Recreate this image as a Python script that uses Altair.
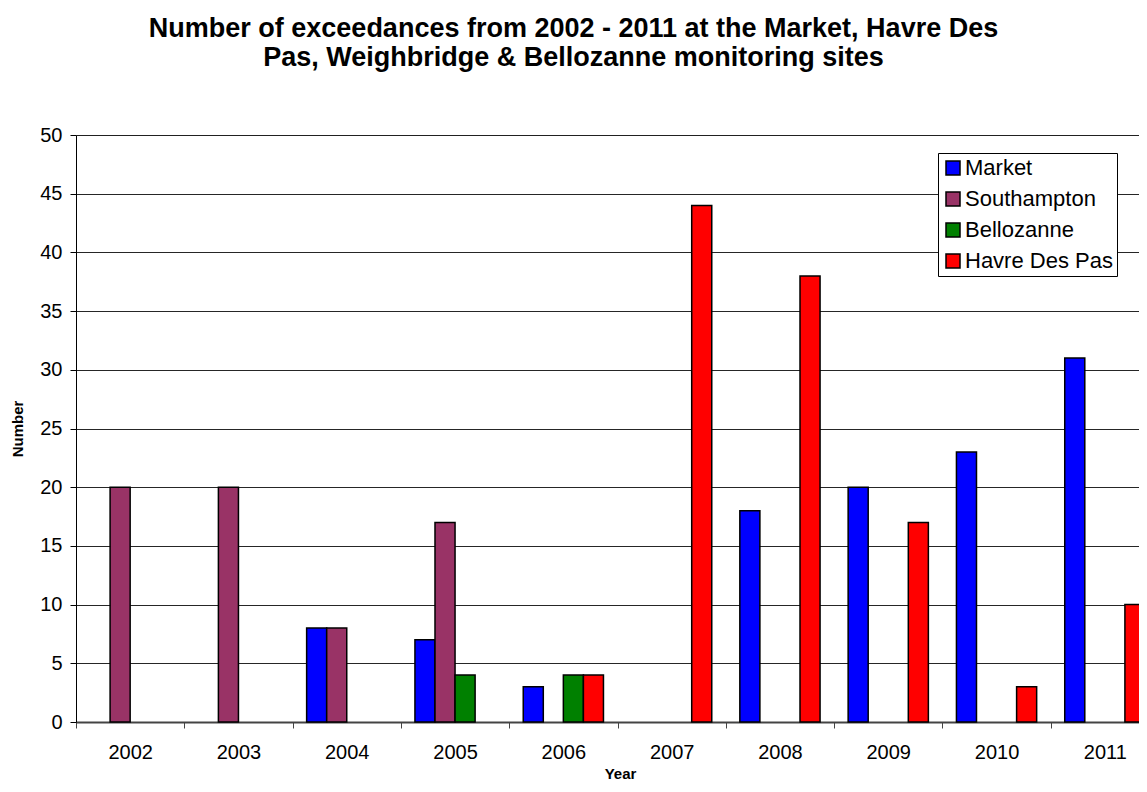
import altair as alt
import pandas as pd

years = [str(y) for y in range(2002, 2012)]
series = ["Market", "Southampton", "Bellozanne", "Havre Des Pas"]
colors = ["#0000FF", "#993366", "#008000", "#FF0000"]

market = [None, None, 8, 7, 3, None, 18, 20, 23, 31]
southampton = [20, 20, 8, 17, None, None, None, None, None, None]
bellozanne = [None, None, None, 4, 4, None, None, None, None, None]
havre = [None, None, None, None, 4, 44, 38, 17, 3, 10]

rows = []
for name, vals in zip(series, [market, southampton, bellozanne, havre]):
    for yr, v in zip(years, vals):
        if v is not None:
            rows.append({"Year": yr, "Series": name, "Value": v})
df = pd.DataFrame(rows)

FONT = "Liberation Sans"

chart = alt.Chart(df).mark_bar(stroke="black", strokeWidth=1.5).encode(
    x=alt.X(
        "Year:N",
        sort=years,
        scale=alt.Scale(domain=years, paddingInner=0, paddingOuter=0, range=[0, 1083]),
        axis=alt.Axis(
            title="Year", labelAngle=0, tickBand="extent", tickSize=6,
            tickColor="#444444", domainColor="#444444", domainWidth=2,
            labelFontSize=20, labelFont=FONT, labelColor="black", labelPadding=14,
            titleFont=FONT, titleFontSize=15, titleFontWeight="bold", titleColor="black",
            titlePadding=4, titleX=544, grid=False,
        ),
    ),
    xOffset=alt.XOffset("Series:N", sort=series,
                        scale=alt.Scale(domain=series, paddingInner=0, paddingOuter=0.7)),
    y=alt.Y(
        "Value:Q",
        scale=alt.Scale(domain=[0, 50], nice=False),
        axis=alt.Axis(
            title="Number", values=list(range(0, 51, 5)), tickSize=6,
            tickColor="black", domainColor="black", domainWidth=1,
            gridColor="black", gridWidth=1, gridOpacity=0.85,
            labelFontSize=20, labelFont=FONT, labelColor="black", labelPadding=8,
            titleFont=FONT, titleFontSize=15, titleFontWeight="bold", titleColor="black",
            titlePadding=14,
        ),
    ),
    color=alt.Color(
        "Series:N",
        sort=series,
        scale=alt.Scale(domain=series, range=colors),
        legend=alt.Legend(
            title=None, orient="none", legendX=862, legendY=18,
            strokeColor="black", fillColor="white", padding=4,
            symbolType="square", symbolSize=196, symbolStrokeColor="black",
            symbolStrokeWidth=1.5, symbolOpacity=1,
            labelFontSize=22, labelFont=FONT, labelColor="black",
            labelOffset=1, rowPadding=9,
        ),
    ),
).properties(
    width=1063,
    height=587,
    autosize=alt.AutoSizeParams(type="none"),
    padding={"left": 68, "top": 127, "right": 0, "bottom": 62},
    title=alt.Title(
        ["Number of exceedances from 2002 - 2011 at the Market, Havre Des",
         "Pas, Weighbridge & Bellozanne monitoring sites"],
        font=FONT, fontSize=27, fontWeight="bold", color="black",
        lineHeight=29, anchor="middle", dx=-34, offset=53,
    ),
).configure_view(stroke=None).configure(background="white")

chart.save("out.html", embed_options={"renderer": "svg", "actions": False})
